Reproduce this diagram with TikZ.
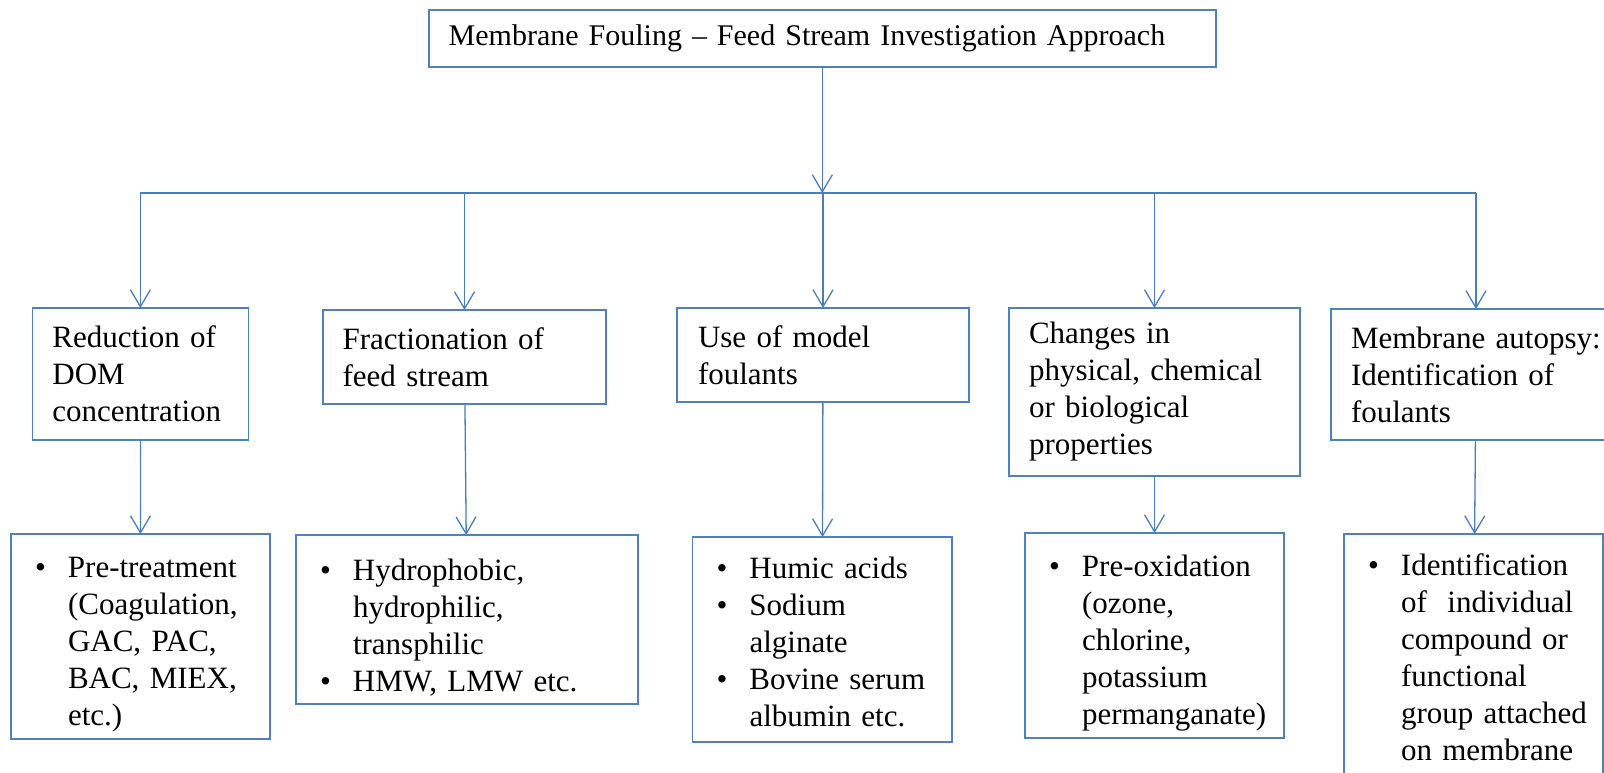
\documentclass[tikz,border=0pt]{standalone}
\usepackage{fontspec}
\setmainfont{Liberation Serif}
\usetikzlibrary{arrows.meta}
\definecolor{frameblue}{HTML}{4F81BD}
\definecolor{wireblue}{HTML}{4A7EBB}
% bulleted item with hanging indent
\newlength{\bltind}
\setlength{\bltind}{33pt}
\newcommand{\bitem}{\par\hangindent=\bltind\hangafter=1\noindent\makebox[\bltind][l]{\textbullet}}
% empty space kept below the last line, lifting a centred text block
\newcommand{\tailspace}[1]{\par\vskip #1\nointerlineskip\hbox{}}
\begin{document}
\begin{tikzpicture}[x=1pt,y=-1pt,
  box/.style={draw=frameblue, line width=1.6pt, anchor=north west, align=left,
    inner ysep=0pt, outer sep=0pt, fill=white,
    font=\fontsize{31}{37}\selectfont,
    execute at begin node={\setlength{\parindent}{0pt}\hyphenpenalty=10000 \exhyphenpenalty=10000 \hbadness=10000 \hfuzz=50pt }},
  conn/.style={draw=wireblue, line width=1.3pt},
  arr/.style={conn, -{Straight Barb[length=17pt,width=20pt,line width=1.3pt]}}]
\useasboundingbox (0,0) rectangle (1604,772);

% title
\node[box, inner xsep=20pt, text width=747.3pt, minimum height=57pt,
  font=\fontsize{30}{36}\selectfont] (t) at (428.7,10)
  {Membrane Fouling – Feed Stream Investigation Approach};

% approaches
\node[box, inner xsep=20pt, text width=176pt, minimum height=132pt] (b1) at (32.4,308)
  {Reduction~of\newline DOM\newline concentration};
\node[box, inner xsep=19.6pt, text width=243.8pt, minimum height=94pt] (b2) at (323,310)
  {Fractionation~of\newline feed~stream};
\node[box, inner xsep=21pt, text width=250pt, minimum height=94pt] (b3) at (677,308)
  {Use~of~model\newline foulants};
\node[box, inner xsep=20pt, text width=251pt, minimum height=168pt] (b4) at (1009,308)
  {Changes~in\newline physical,~chemical\newline or~biological\newline properties};
\node[box, inner xsep=20pt, text width=250pt, minimum height=131pt] (b5) at (1331,309)
  {Membrane~autopsy:\newline Identification~of\newline foulants};

% details
\node[box, inner xsep=24pt, text width=211pt, minimum height=205pt] (c1) at (11,534)
  {\bitem Pre-treatment\newline (Coagulation,\newline GAC,~PAC,\newline BAC,~MIEX,\newline etc.)\par};
\node[box, inner xsep=24pt, text width=294pt, minimum height=169pt] (c2) at (296,535)
  {\bitem Hydrophobic,\newline hydrophilic,\newline transphilic
   \bitem HMW,~LMW~etc.\par};
\node[box, inner xsep=24pt, text width=211.5pt, minimum height=205pt] (c3) at (692.5,537)
  {\bitem Humic~acids
   \bitem Sodium\newline alginate
   \bitem Bovine~serum\newline albumin~etc.\tailspace{10pt}};
\node[box, inner xsep=24pt, text width=211pt, minimum height=205pt] (c4) at (1025,533)
  {\bitem Pre-oxidation\newline (ozone,\newline chlorine,\newline potassium\newline permanganate)\par};
% the lowest box runs past the bottom edge; its text sits near the top
\node[box, inner xsep=24pt, text width=211pt, minimum height=248pt] (c5) at (1344,534)
  {\bitem Identification\newline of~~individual\newline compound~or\newline functional\newline \mbox{group~attached}\newline on~membrane\tailspace{16pt}};

% distribution bar
\coordinate (jm) at (t.south |- 0,193);
\coordinate (j1) at (b1.north |- jm);
\coordinate (j2) at (b2.north |- jm);
\coordinate (j3) at (b3.north |- jm);
\coordinate (j4) at (b4.north |- jm);
\coordinate (j5) at (b5.north |- jm);
\draw[conn] (j1) -- (j5);
\draw[arr] (t) -- (jm);
\foreach \i in {1,...,5} {
  \draw[arr] (j\i) -- (b\i);
  \draw[arr] (b\i) -- (c\i);
}
\end{tikzpicture}
\end{document}
